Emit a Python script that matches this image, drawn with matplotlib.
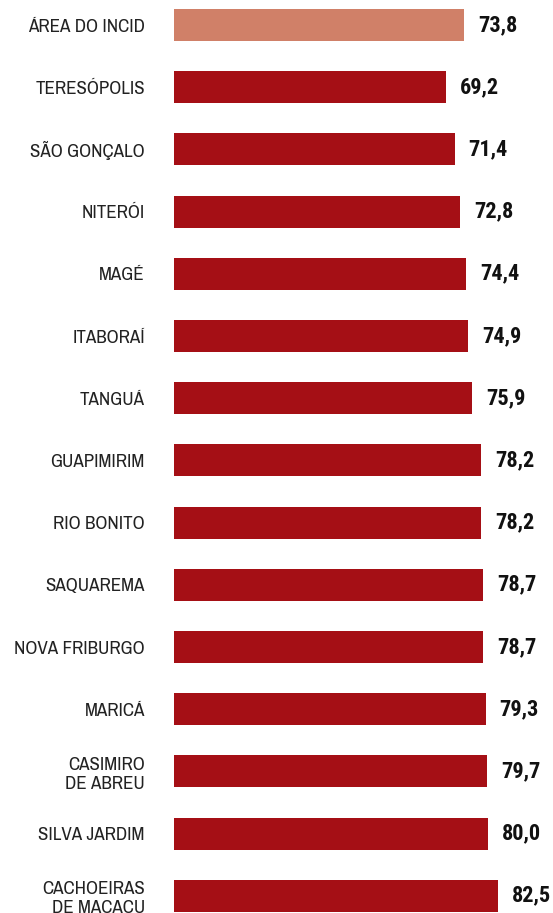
import matplotlib
matplotlib.use("Agg")
import matplotlib.pyplot as plt

categories = ["ÁREA DO INCID", "TERESÓPOLIS", "SÃO GONÇALO", "NITERÓI", "MAGÉ",
              "ITABORAÍ", "TANGUÁ", "GUAPIMIRIM", "RIO BONITO", "SAQUAREMA",
              "NOVA FRIBURGO", "MARICÁ", "CASIMIRO\nDE ABREU", "SILVA JARDIM",
              "CACHOEIRAS\nDE MACACU"]
values = [73.8, 69.2, 71.4, 72.8, 74.4, 74.9, 75.9, 78.2, 78.2, 78.7, 78.7,
          79.3, 79.7, 80.0, 82.5]
value_labels = ["73,8", "69,2", "71,4", "72,8", "74,4", "74,9", "75,9", "78,2",
                "78,2", "78,7", "78,7", "79,3", "79,7", "80,0", "82,5"]
highlight_color = "#D08068"
bar_color = "#A50F15"

plt.rcParams["font.family"] = ["Archivo Narrow", "DejaVu Sans"]
value_fams = ["Roboto Condensed", "DejaVu Sans"]

W, H = 553, 913
fig = plt.figure(figsize=(W / 100, H / 100), dpi=100)
left = 174 / W
ax = fig.add_axes([left, 0, 1 - left, 1])

colors = [highlight_color] + [bar_color] * (len(values) - 1)
y = list(range(len(values)))
ax.barh(y, values, height=0.515, color=colors)

spacing = 62.2
ax.set_ylim((H - 25) / spacing, -25 / spacing)
ax.set_xlim(0, (W - 174) / 3.93)

ax.set_yticks(y)
ax.set_yticklabels(categories, fontsize=13.7, color="#222222", linespacing=1.2)
ax.tick_params(axis="y", length=0, pad=21)
ax.set_xticks([])
for s in ax.spines.values():
    s.set_visible(False)

for yi, v, lab in zip(y, values, value_labels):
    ax.annotate(lab, (v, yi), xytext=(10, 0), textcoords="offset points",
                va="center", ha="left", fontsize=16, fontweight="bold",
                family=value_fams, color="#111111")

fig.savefig("out.png", dpi=100)
